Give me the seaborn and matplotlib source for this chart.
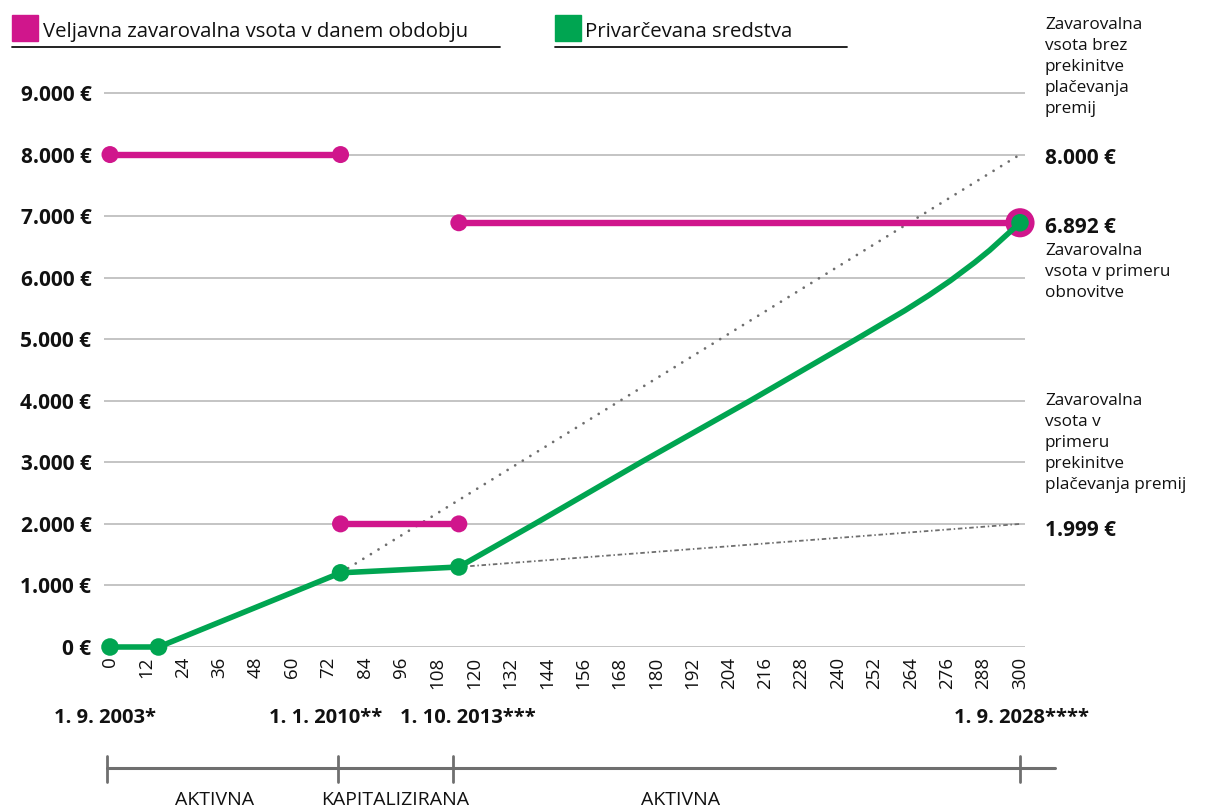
import matplotlib
matplotlib.use("Agg")
import matplotlib.pyplot as plt
import matplotlib.transforms as mtrans
from matplotlib.lines import Line2D
from matplotlib.patches import Rectangle
import seaborn as sns

sns.set_theme(style="white")
plt.rcParams["font.family"] = ["Open Sans", "DejaVu Sans"]

# ---- data -------------------------------------------------------------
month_ticks = list(range(0, 301, 12))
value_ticks = list(range(0, 9001, 1000))

# valid insured sum in each period (month, EUR)
cover_a_months = [0, 76]
cover_a_values = [8000, 8000]
cover_b_months = [76, 115]
cover_b_values = [2000, 2000]
cover_c_months = [115, 300]
cover_c_values = [6892, 6892]

# accumulated savings (month, EUR)
savings_months = [0, 16, 76, 115, 140, 175, 211, 246, 262, 270, 277, 285, 290, 300]
savings_values = [0, 0, 1205, 1300, 2000, 3000, 4000, 5000, 5465, 5715, 5950, 6245,
                  6445, 6892]
savings_marker_idx = [0, 1, 2, 3, 13]

# projected sums
full_pay_months = [76, 300]
full_pay_values = [1205, 8000]
paid_up_months = [115, 300]
paid_up_values = [1300, 1999]

date_labels = ["1. 9. 2003*", "1. 1. 2010**", "1. 10. 2013***", "1. 9. 2028****"]
date_label_months = [-1.5, 71, 118, 300.5]
phase_bounds = [-1, 75, 113, 300]
phase_labels = ["AKTIVNA", "KAPITALIZIRANA", "AKTIVNA"]
phase_label_months = [34.5, 94, 188]

MAG = "#D0168C"
GRN = "#00A551"
DOT = "#6E6E6E"

W, H = 1208, 810
fig = plt.figure(figsize=(W / 100, H / 100), dpi=100)


def fx(px):
    return px / W


def fy(py):
    return 1 - py / H


def euro(v):
    return f"{v:,.0f}".replace(",", ".") + " €"


# axes: month 0 -> x=110 px, month 300 -> x=1020 px; 0 EUR -> y=647, 9000 -> y=93
ax_left, ax_right = 104, 1025
ax_bottom, ax_top = 647, 74.5
ax = fig.add_axes([fx(ax_left), fy(ax_bottom), (ax_right - ax_left) / W,
                   (ax_bottom - ax_top) / H])
xs = 910 / 300
ax.set_xlim((ax_left - 110) / xs, (ax_right - 110) / xs)
ax.set_ylim(0, 9000 * (ax_bottom - ax_top) / (647 - 93))

for s in ax.spines.values():
    s.set_visible(False)

ax.set_yticks(value_ticks)
ax.set_yticklabels([euro(v) for v in value_ticks], fontweight="bold", fontsize=15)
ax.set_xticks(month_ticks)
ax.set_xticklabels([str(m) for m in month_ticks], rotation=90, fontsize=13.5)
ax.tick_params(axis="y", length=0, pad=9, colors="#111111")
ax.tick_params(axis="x", length=0, pad=7, colors="#111111")
for v in value_ticks:
    ax.axhline(v, color="#B4B4B4", lw=1.1, zorder=0)

# projections
sns.lineplot(x=full_pay_months, y=full_pay_values, ax=ax, color=DOT, lw=2.0,
             linestyle=(0, (0.01, 3.2)), dash_capstyle="round", estimator=None,
             zorder=1, clip_on=False)
sns.lineplot(x=paid_up_months, y=paid_up_values, ax=ax, color=DOT, lw=1.3,
             linestyle=(0, (2.5, 1.5, 0.8, 1.5)), estimator=None, zorder=1,
             clip_on=False)

# insured sums
for mx, my in [(cover_a_months, cover_a_values), (cover_b_months, cover_b_values),
               (cover_c_months, cover_c_values)]:
    sns.lineplot(x=mx, y=my, ax=ax, color=MAG, lw=4.6, estimator=None,
                 zorder=3, clip_on=False)
cover_pts_x = cover_a_months + cover_b_months + cover_c_months[:1]
cover_pts_y = cover_a_values + cover_b_values + cover_c_values[:1]
sns.scatterplot(x=cover_pts_x, y=cover_pts_y, ax=ax, color=MAG, s=150,
                edgecolor="none", zorder=4, clip_on=False)
sns.scatterplot(x=cover_c_months[-1:], y=cover_c_values[-1:], ax=ax, color=MAG,
                s=440, edgecolor="none", zorder=4, clip_on=False)

# savings
sns.lineplot(x=savings_months, y=savings_values, ax=ax, color=GRN, lw=4.0,
             estimator=None, sort=False, zorder=5, clip_on=False,
             solid_joinstyle="round")
sns.scatterplot(x=[savings_months[i] for i in savings_marker_idx],
                y=[savings_values[i] for i in savings_marker_idx], ax=ax,
                color=GRN, s=160, edgecolor="none", zorder=6, clip_on=False)

ax.set_xlabel("")
ax.set_ylabel("")

# ---- legend -------------------------------------------------------------
fig.patches.append(Rectangle((fx(12), fy(41)), 26 / W, 26 / H,
                             transform=fig.transFigure, color=MAG))
fig.text(fx(43), fy(32), "Veljavna zavarovalna vsota v danem obdobju",
         va="center", ha="left", fontsize=14.7, color="#111111")
fig.lines.append(Line2D([fx(12), fx(500)], [fy(47), fy(47)],
                        transform=fig.transFigure, color="#111111", lw=1.3))
fig.patches.append(Rectangle((fx(555), fy(41)), 26 / W, 26 / H,
                             transform=fig.transFigure, color=GRN))
fig.text(fx(585), fy(32), "Privarčevana sredstva",
         va="center", ha="left", fontsize=14.7, color="#111111")
fig.lines.append(Line2D([fx(555), fx(847)], [fy(47), fy(47)],
                        transform=fig.transFigure, color="#111111", lw=1.3))

# ---- right annotations ---------------------------------------------------
side = mtrans.blended_transform_factory(fig.transFigure, ax.transData)
tx = fx(1045)
note_kw = dict(va="top", ha="left", fontsize=12.3, linespacing=1.42, color="#111111")
fig.text(tx, fy(17), "Zavarovalna\nvsota brez\nprekinitve\nplačevanja\npremij", **note_kw)
fig.text(tx, fy(243), "Zavarovalna\nvsota v primeru\nobnovitve", **note_kw)
fig.text(tx, fy(393), "Zavarovalna\nvsota v\nprimeru\nprekinitve\nplačevanja premij",
         **note_kw)

for val, dy in [(full_pay_values[-1], -2.5), (cover_c_values[-1], -3.5),
                (paid_up_values[-1], -5)]:
    ax.annotate(euro(val), xy=(tx, val), xycoords=side, xytext=(0, dy),
                textcoords="offset points", va="center", ha="left",
                fontsize=15, fontweight="bold", color="#111111",
                annotation_clip=False)

# ---- dates and phases ---------------------------------------------------------
bottom = mtrans.blended_transform_factory(ax.transData, fig.transFigure)
for m, lab in zip(date_label_months, date_labels):
    ax.text(m, fy(718), lab, transform=bottom, ha="center", va="center",
            fontsize=14.5, fontweight="bold", clip_on=False, color="#111111")

fig.lines.append(Line2D([fx(107), fx(1055)], [fy(768), fy(768)],
                        transform=fig.transFigure, color="#6F6F6F", lw=2.2))
for m in phase_bounds:
    ax.plot([m, m], [fy(756), fy(782)], transform=bottom, color="#6F6F6F",
            lw=2.0, clip_on=False)
for m, lab in zip(phase_label_months, phase_labels):
    ax.text(m, fy(791), lab, transform=bottom, ha="center", va="top",
            fontsize=14, clip_on=False, color="#111111")

fig.savefig("out.png", dpi=100)
